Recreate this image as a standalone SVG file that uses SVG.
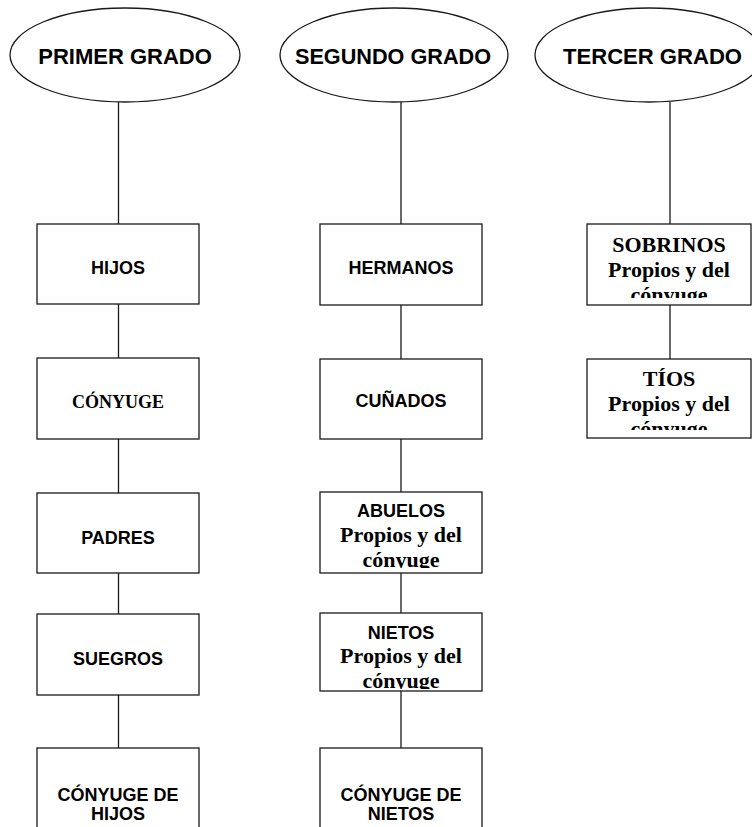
<svg xmlns="http://www.w3.org/2000/svg" width="752" height="827" viewBox="0 0 752 827">
<style>
.sh{fill:#fff;stroke:#1a1a1a;stroke-width:1.3}
.ln{stroke:#1a1a1a;stroke-width:1.3;fill:none}
.a{font-family:"Liberation Sans",Arial,sans-serif;font-weight:bold;fill:#000;text-anchor:middle}
.t{font-family:"Liberation Serif","Times New Roman",serif;font-weight:bold;fill:#000;text-anchor:middle}
.h{font-size:22px}
.s{font-size:18px}
.tl{font-size:22px}
</style>
<defs>
<clipPath id="cSob"><rect x="587" y="224" width="165" height="74"/></clipPath>
<clipPath id="cTio"><rect x="587" y="359" width="165" height="71"/></clipPath>
<clipPath id="cAbu"><rect x="320" y="492" width="162" height="76"/></clipPath>
<clipPath id="cNie"><rect x="320" y="613" width="162" height="76"/></clipPath>
</defs>
<rect width="752" height="827" fill="#fff"/>
<g id="connectors">
<line class="ln" x1="118.5" y1="102" x2="118.5" y2="224"/>
<line class="ln" x1="118.5" y1="304" x2="118.5" y2="358"/>
<line class="ln" x1="118.5" y1="439" x2="118.5" y2="493"/>
<line class="ln" x1="118.5" y1="573" x2="118.5" y2="614"/>
<line class="ln" x1="118.5" y1="695" x2="118.5" y2="748"/>
<line class="ln" x1="401" y1="102" x2="401" y2="224"/>
<line class="ln" x1="401" y1="305" x2="401" y2="359"/>
<line class="ln" x1="401" y1="439" x2="401" y2="492"/>
<line class="ln" x1="401" y1="573" x2="401" y2="613"/>
<line class="ln" x1="401" y1="691" x2="401" y2="748"/>
<line class="ln" x1="670" y1="102" x2="670" y2="224"/>
<line class="ln" x1="670" y1="305" x2="670" y2="359"/>
</g>
<g id="primer">
<ellipse class="sh" cx="125" cy="55" rx="115" ry="47"/>
<text class="a h" x="125" y="64">PRIMER GRADO</text>
</g>
<g id="segundo">
<ellipse class="sh" cx="394" cy="55" rx="114" ry="47"/>
<text class="a h" x="393" y="64" textLength="196" lengthAdjust="spacingAndGlyphs">SEGUNDO GRADO</text>
</g>
<g id="tercer">
<ellipse class="sh" cx="649" cy="55" rx="114" ry="47"/>
<text class="a h" x="652.5" y="64" textLength="179" lengthAdjust="spacingAndGlyphs">TERCER GRADO</text>
</g>
<g id="hijos">
<rect class="sh" x="37" y="224" width="162" height="80"/>
<text class="a s" x="118" y="274">HIJOS</text>
</g>
<g id="conyuge">
<rect class="sh" x="37" y="358" width="162" height="81"/>
<text class="t s" x="118" y="408">CÓNYUGE</text>
</g>
<g id="padres">
<rect class="sh" x="37" y="493" width="162" height="80"/>
<text class="a s" x="118" y="544">PADRES</text>
</g>
<g id="suegros">
<rect class="sh" x="37" y="614" width="162" height="81"/>
<text class="a s" x="118" y="665">SUEGROS</text>
</g>
<g id="conyuge-hijos">
<rect class="sh" x="37" y="748" width="162" height="90"/>
<text class="a s" x="118" y="801">CÓNYUGE DE</text>
<text class="a s" x="118" y="820">HIJOS</text>
</g>
<g id="hermanos">
<rect class="sh" x="320" y="224" width="162" height="81"/>
<text class="a s" x="401" y="274">HERMANOS</text>
</g>
<g id="cunados">
<rect class="sh" x="320" y="359" width="162" height="80"/>
<text class="a s" x="401" y="407">CUÑADOS</text>
</g>
<g id="abuelos">
<rect class="sh" x="320" y="492" width="162" height="81"/>
<g clip-path="url(#cAbu)">
<text class="a s" x="401" y="517">ABUELOS</text>
<text class="t tl" x="401" y="542">Propios y del</text>
<text class="t tl" x="401" y="567">cónyuge</text>
</g>
</g>
<g id="nietos">
<rect class="sh" x="320" y="613" width="162" height="78"/>
<g clip-path="url(#cNie)">
<text class="a s" x="401" y="639">NIETOS</text>
<text class="t tl" x="401" y="663">Propios y del</text>
<text class="t tl" x="401" y="688">cónyuge</text>
</g>
</g>
<g id="conyuge-nietos">
<rect class="sh" x="320" y="748" width="162" height="90"/>
<text class="a s" x="401" y="801">CÓNYUGE DE</text>
<text class="a s" x="401" y="820">NIETOS</text>
</g>
<g id="sobrinos">
<rect class="sh" x="587" y="224" width="164" height="81"/>
<g clip-path="url(#cSob)">
<text class="t tl" x="669" y="252">SOBRINOS</text>
<text class="t tl" x="669" y="277">Propios y del</text>
<text class="t tl" x="669" y="302">cónyuge</text>
</g>
</g>
<g id="tios">
<rect class="sh" x="587" y="359" width="164" height="79"/>
<g clip-path="url(#cTio)">
<text class="t tl" x="669" y="386">TÍOS</text>
<text class="t tl" x="669" y="411">Propios y del</text>
<text class="t tl" x="669" y="436">cónyuge</text>
</g>
</g>
</svg>
